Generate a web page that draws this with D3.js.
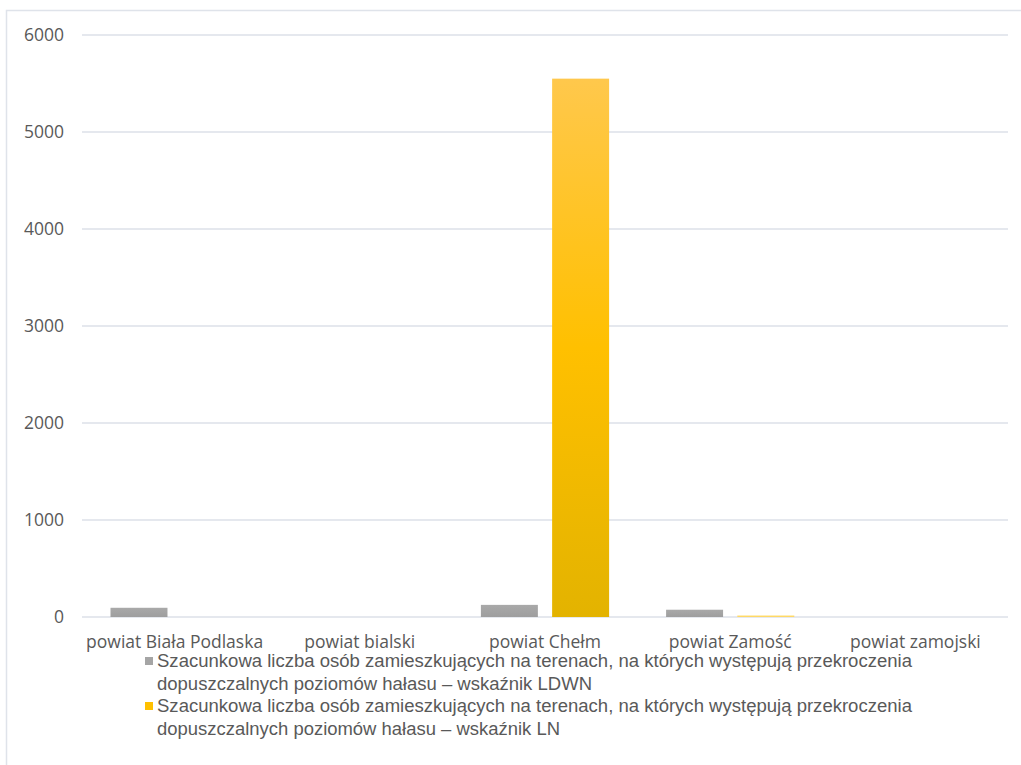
<!DOCTYPE html>
<html lang="pl">
<head>
<meta charset="UTF-8" />
<script src="https://cdn.jsdelivr.net/npm/d3@7"></script>
<style>
    body { margin: 0; background: #fff; }
    svg text { fill: #595959; }
    .axis-label { font-family: 'Open Sans', 'DejaVu Sans', sans-serif; }
    .legend-label { font-family: 'Liberation Sans Narrow', 'Liberation Sans', sans-serif; }
</style>
</head>
<body>
<div id="chart"></div>
<script>
    const categories = ['powiat Biała Podlaska', 'powiat bialski', 'powiat Chełm', 'powiat Zamość', 'powiat zamojski']
    const ldwnValues = [95, 0, 125, 75, 0]
    const lnValues = [0, 0, 5550, 15, 0]
    const yTicks = [0, 1000, 2000, 3000, 4000, 5000, 6000]
    const legendLines = [
        ['Szacunkowa liczba osób zamieszkujących na terenach, na których występują przekroczenia', 'dopuszczalnych poziomów hałasu – wskaźnik LDWN'],
        ['Szacunkowa liczba osób zamieszkujących na terenach, na których występują przekroczenia', 'dopuszczalnych poziomów hałasu – wskaźnik LN'],
    ]

    const width = 1021
    const height = 765
    const plotLeft = 82
    const plotRight = 1008
    const plotTop = 35
    const plotBottom = 617

    const svg = d3.select('#chart').append('svg').attr('width', width).attr('height', height)

    // chart frame
    svg.append('rect')
        .attr('x', 6.5).attr('y', 10.5)
        .attr('width', width + 10).attr('height', height + 10)
        .attr('fill', 'none').attr('stroke', '#dfe3ea').attr('stroke-width', 1.5)

    const defs = svg.append('defs')
    const yellowGrad = defs.append('linearGradient').attr('id', 'yellowGrad').attr('x1', 0).attr('y1', 0).attr('x2', 0).attr('y2', 1)
    yellowGrad.append('stop').attr('offset', '0%').attr('stop-color', '#ffc84c')
    yellowGrad.append('stop').attr('offset', '50%').attr('stop-color', '#ffc000')
    yellowGrad.append('stop').attr('offset', '100%').attr('stop-color', '#e3b300')
    const grayGrad = defs.append('linearGradient').attr('id', 'grayGrad').attr('x1', 0).attr('y1', 0).attr('x2', 0).attr('y2', 1)
    grayGrad.append('stop').attr('offset', '0%').attr('stop-color', '#a9a9a9')
    grayGrad.append('stop').attr('offset', '100%').attr('stop-color', '#9e9e9e')

    const x = d3.scaleBand().domain(categories).range([plotLeft, plotRight])
    const xInner = d3.scaleBand().domain(['ldwn', 'ln']).range([0, x.bandwidth()]).paddingInner(0.2).paddingOuter(0.4)
    const y = d3.scaleLinear().domain([0, 6000]).range([plotBottom, plotTop])

    // grid
    svg.append('g')
        .selectAll('line')
        .data(yTicks)
        .enter()
        .append('line')
        .attr('x1', plotLeft).attr('x2', plotRight)
        .attr('y1', (d) => y(d)).attr('y2', (d) => y(d))
        .attr('stroke', '#dde1e8').attr('stroke-width', 1.3)

    // y axis labels
    const yAxis = svg.append('g')
        .attr('transform', `translate(${plotLeft - 18},0)`)
        .call(d3.axisLeft(y).tickValues(yTicks).tickSize(0).tickPadding(0).tickFormat(d3.format('d')))
    yAxis.attr('font-family', null)
    yAxis.select('.domain').remove()
    yAxis.selectAll('text')
        .attr('class', 'axis-label')
        .attr('font-size', 17.5)
        .style('fill', '#595959')

    // bars
    const groups = svg.append('g')
        .selectAll('g')
        .data(categories)
        .enter()
        .append('g')
        .attr('transform', (d) => `translate(${x(d)},0)`)

    groups.append('rect')
        .attr('x', xInner('ldwn'))
        .attr('width', xInner.bandwidth())
        .attr('y', (d, i) => y(ldwnValues[i]))
        .attr('height', (d, i) => plotBottom - y(ldwnValues[i]))
        .attr('fill', 'url(#grayGrad)')

    groups.append('rect')
        .attr('x', xInner('ln'))
        .attr('width', xInner.bandwidth())
        .attr('y', (d, i) => y(lnValues[i]))
        .attr('height', (d, i) => plotBottom - y(lnValues[i]))
        .attr('fill', (d, i) => (lnValues[i] < 100 ? '#ffd966' : 'url(#yellowGrad)'))

    // x axis labels
    const xAxis = svg.append('g')
        .attr('transform', `translate(0,${plotBottom + 15})`)
        .call(d3.axisBottom(x).tickSize(0).tickPadding(0))
    xAxis.attr('font-family', null)
    xAxis.select('.domain').remove()
    xAxis.selectAll('text')
        .attr('class', 'axis-label')
        .attr('font-size', 17.5)
        .attr('dy', '0.9em')
        .style('fill', '#595959')

    // legend
    const legendColors = ['#a5a5a5', '#ffc000']
    const legendWidths = [[755, 435], [755, 403]]
    const legend = svg.append('g')
        .selectAll('g')
        .data(legendLines)
        .enter()
        .append('g')
        .attr('transform', (d, i) => `translate(145,${657 + i * 45})`)

    legend.append('rect')
        .attr('width', 8).attr('height', 8)
        .attr('fill', (d, i) => legendColors[i])

    legend.each(function (lines, i) {
        d3.select(this)
            .selectAll('text')
            .data(lines)
            .enter()
            .append('text')
            .attr('class', 'legend-label')
            .attr('x', 12)
            .attr('y', (d, j) => 10 + j * 23)
            .attr('font-size', 17.5)
            .attr('textLength', (d, j) => legendWidths[i][j])
            .attr('lengthAdjust', 'spacingAndGlyphs')
            .text((d) => d)
    })
</script>
</body>
</html>
